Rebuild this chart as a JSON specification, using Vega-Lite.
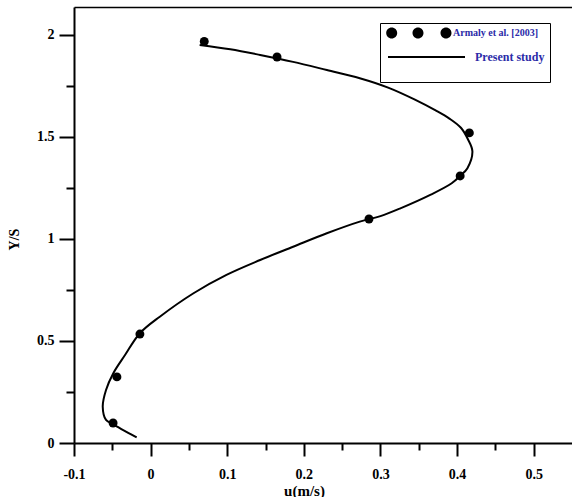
{
  "$schema": "https://vega.github.io/schema/vega-lite/v6.json",
  "width": 498,
  "height": 436,
  "autosize": "none",
  "padding": {"left": 74, "top": 7, "right": 0, "bottom": 54},
  "background": "white",
  "encoding": {
    "y": {
      "field": "y",
      "type": "quantitative",
      "scale": {"domain": [0, 2.137], "nice": false},
      "axis": {
        "title": "Y/S",
        "values": [0, 0.25, 0.5, 0.75, 1, 1.25, 1.5, 1.75, 2],
        "format": ".1~f",
        "labelExpr": "datum.value % 0.5 === 0 ? datum.label : ''",
        "tickSize": {"condition": {"test": "datum.value % 0.5 === 0", "value": 15}, "value": 8},
        "labelPadding": 5,
        "labelFlush": false,
        "labelOverlap": false,
        "titleX": -60,
        "titleY": 232,
        "titleBaseline": "middle",
        "titleAlign": "center"
      }
    }
  },
  "layer": [
    {
      "data": {
        "values": [
          {"u": 0.070, "y": 1.968, "series": "Armaly et al. [2003]"},
          {"u": 0.165, "y": 1.892, "series": "Armaly et al. [2003]"},
          {"u": 0.416, "y": 1.520, "series": "Armaly et al. [2003]"},
          {"u": 0.404, "y": 1.309, "series": "Armaly et al. [2003]"},
          {"u": 0.285, "y": 1.098, "series": "Armaly et al. [2003]"},
          {"u": -0.014, "y": 0.534, "series": "Armaly et al. [2003]"},
          {"u": -0.044, "y": 0.324, "series": "Armaly et al. [2003]"},
          {"u": -0.049, "y": 0.098, "series": "Armaly et al. [2003]"}
        ]
      },
      "mark": {"type": "point", "filled": true, "size": 80, "opacity": 1},
      "encoding": {
        "x": {
          "field": "u",
          "type": "quantitative",
          "scale": {"domain": [-0.1, 0.55], "nice": false},
          "axis": {
            "title": "u(m/s)",
            "orient": "bottom",
            "values": [-0.1, -0.05, 0, 0.05, 0.1, 0.15, 0.2, 0.25, 0.3, 0.35, 0.4, 0.45, 0.5],
            "format": ".1~f",
            "labelExpr": "abs(datum.value * 10 - round(datum.value * 10)) < 0.001 ? replace(datum.label, '\u2212', '-') : ''",
            "tickSize": {"condition": {"test": "abs(datum.value * 10 - round(datum.value * 10)) < 0.001", "value": 13}, "value": 7},
            "labelPadding": 11,
            "labelFlush": false,
            "labelOverlap": false,
            "titleFontSize": 15,
            "titleX": 230,
            "titleY": 47,
            "titleBaseline": "middle",
            "titleAlign": "center"
          }
        },
        "color": {
          "field": "series",
          "type": "nominal",
          "scale": {"domain": ["Armaly et al. [2003]", "Present study"], "range": ["black", "black"]},
          "legend": {
            "title": " ",
            "titleOrient": "bottom",
            "titleFontSize": 10,
            "titlePadding": 4,
            "orient": "none",
            "legendX": 306,
            "legendY": 16,
            "fillColor": "white",
            "strokeColor": "black",
            "padding": 5,
            "symbolSize": 100,
            "labelOffset": 80,
            "rowPadding": 12,
            "labelFont": "Liberation Serif",
            "labelFontWeight": "bold",
            "labelColor": "#2b2ba8",
            "labelFontSize": 12,
            "labelLimit": 300,
            "encoding": {
              "symbols": {
                "shape": {
                  "condition": {"test": "datum.value === 'Present study'", "value": "M-0.4,-0.2L15,-0.2L15,0.2L-0.4,0.2Z"},
                  "value": "M-0.76,0A1.1,1.1,0,1,0,1.44,0A1.1,1.1,0,1,0,-0.76,0ZM4.5,0A1.1,1.1,0,1,0,6.7,0A1.1,1.1,0,1,0,4.5,0ZM10.1,0A1.1,1.1,0,1,0,12.3,0A1.1,1.1,0,1,0,10.1,0Z"
                },
                "fill": {"value": "black"},
                "stroke": {"value": "black"},
                "strokeWidth": {"value": 0},
                "opacity": {"value": 1},
                "size": {"value": 100}
              },
              "labels": {
                "fontSize": {"condition": {"test": "datum.value === 'Present study'", "value": 12}, "value": 10},
                "dx": {"condition": {"test": "datum.value === 'Present study'", "value": 0}, "value": -22}
              }
            }
          }
        }
      }
    },
    {
      "data": {
        "values": [
          {"i": 1, "u": 0.064, "y": 1.951},
          {"i": 2, "u": 0.104, "y": 1.930},
          {"i": 3, "u": 0.143, "y": 1.902},
          {"i": 4, "u": 0.186, "y": 1.868},
          {"i": 5, "u": 0.230, "y": 1.828},
          {"i": 6, "u": 0.273, "y": 1.788},
          {"i": 7, "u": 0.310, "y": 1.742},
          {"i": 8, "u": 0.345, "y": 1.683},
          {"i": 9, "u": 0.372, "y": 1.630},
          {"i": 10, "u": 0.390, "y": 1.590},
          {"i": 11, "u": 0.405, "y": 1.545},
          {"i": 12, "u": 0.414, "y": 1.490},
          {"i": 13, "u": 0.420, "y": 1.430},
          {"i": 14, "u": 0.4135, "y": 1.347},
          {"i": 15, "u": 0.404, "y": 1.309},
          {"i": 16, "u": 0.393, "y": 1.273},
          {"i": 17, "u": 0.365, "y": 1.216},
          {"i": 18, "u": 0.326, "y": 1.150},
          {"i": 19, "u": 0.300, "y": 1.112},
          {"i": 20, "u": 0.273, "y": 1.085},
          {"i": 21, "u": 0.230, "y": 1.028},
          {"i": 22, "u": 0.186, "y": 0.962},
          {"i": 23, "u": 0.143, "y": 0.897},
          {"i": 24, "u": 0.099, "y": 0.824},
          {"i": 25, "u": 0.056, "y": 0.734},
          {"i": 26, "u": 0.012, "y": 0.619},
          {"i": 27, "u": -0.014, "y": 0.538},
          {"i": 28, "u": -0.0334, "y": 0.431},
          {"i": 29, "u": -0.0487, "y": 0.342},
          {"i": 30, "u": -0.0582, "y": 0.260},
          {"i": 31, "u": -0.0625, "y": 0.178},
          {"i": 32, "u": -0.0582, "y": 0.113},
          {"i": 33, "u": -0.0496, "y": 0.093},
          {"i": 34, "u": -0.0182, "y": 0.028}
        ]
      },
      "mark": {"type": "line", "color": "black", "strokeWidth": 2, "interpolate": "catmull-rom"},
      "encoding": {
        "x": {
          "field": "u",
          "type": "quantitative",
          "axis": {"orient": "top", "labels": false, "ticks": false, "title": null, "domainWidth": 1.5}
        },
        "order": {"field": "i", "type": "quantitative"}
      }
    }
  ],
  "resolve": {"axis": {"x": "independent"}},
  "config": {
    "view": {"stroke": null},
    "axis": {
      "grid": false,
      "domainColor": "black",
      "domainWidth": 2,
      "tickColor": "black",
      "tickWidth": 2,
      "labelFont": "Liberation Serif",
      "labelFontWeight": "bold",
      "labelFontSize": 14,
      "labelColor": "black",
      "titleFont": "Liberation Serif",
      "titleFontWeight": "bold",
      "titleFontSize": 14,
      "titleColor": "black"
    }
  }
}
